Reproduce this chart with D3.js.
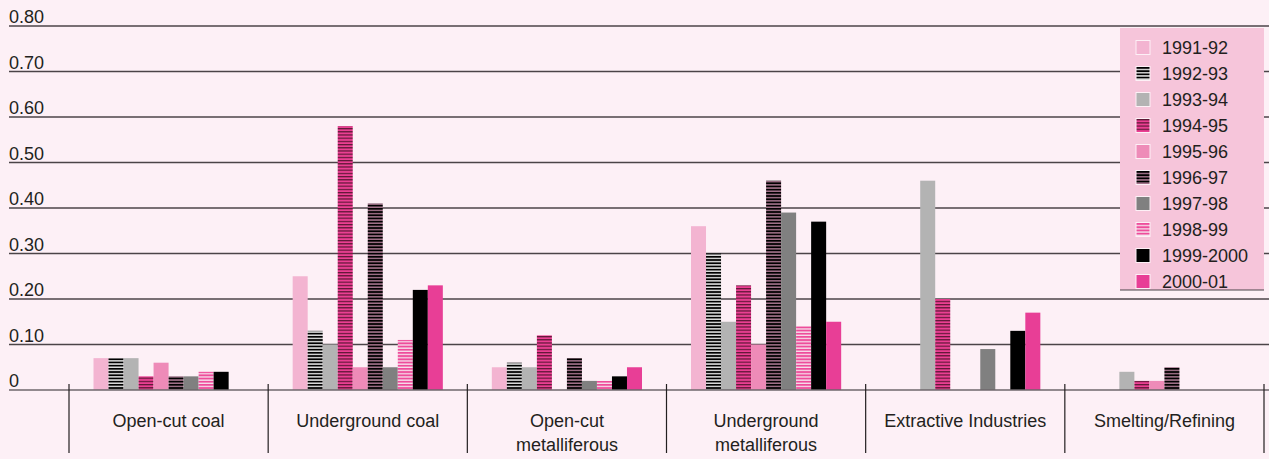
<!DOCTYPE html>
<html>
<head>
<meta charset="utf-8">
<script src="https://cdn.jsdelivr.net/npm/d3@7"></script>
<style>
  html, body { margin: 0; padding: 0; background: #fdf0f6; }
  svg { display: block; font-family: "Liberation Sans", Arial, sans-serif; }
</style>
</head>
<body>
<svg id="chart" width="1269" height="459"></svg>
<script>
// Industry sectors (a "\n" breaks the label onto two lines)
const categories = [
  "Open-cut coal",
  "Underground coal",
  "Open-cut\nmetalliferous",
  "Underground\nmetalliferous",
  "Extractive Industries",
  "Smelting/Refining"
];

// Financial years shown in the legend
const years = ["1991-92", "1992-93", "1993-94", "1994-95", "1995-96",
               "1996-97", "1997-98", "1998-99", "1999-2000", "2000-01"];

// Values per sector, one per financial year (same order as `years`)
const openCutCoal           = [0.07, 0.07, 0.07, 0.03, 0.06, 0.03, 0.03, 0.04, 0.04, 0.00];
const undergroundCoal       = [0.25, 0.13, 0.10, 0.58, 0.05, 0.41, 0.05, 0.11, 0.22, 0.23];
const openCutMetalliferous  = [0.05, 0.06, 0.05, 0.12, 0.00, 0.07, 0.02, 0.02, 0.03, 0.05];
const undergroundMetallif   = [0.36, 0.30, 0.15, 0.23, 0.10, 0.46, 0.39, 0.14, 0.37, 0.15];
const extractiveIndustries  = [0.00, 0.00, 0.46, 0.20, 0.00, 0.00, 0.09, 0.00, 0.13, 0.17];
const smeltingRefining      = [0.00, 0.00, 0.04, 0.02, 0.02, 0.05, 0.00, 0.00, 0.00, 0.00];

const seriesByCategory = [openCutCoal, undergroundCoal, openCutMetalliferous,
                          undergroundMetallif, extractiveIndustries, smeltingRefining];

// Y axis tick values and their printed labels
const yTicks = [0, 0.1, 0.2, 0.3, 0.4, 0.5, 0.6, 0.7, 0.8];
const yTickLabels = ["0", "0.10", "0.20", "0.30", "0.40", "0.50", "0.60", "0.70", "0.80"];

// Fill per year: solid colours or striped patterns
const fills = [
  { type: "solid", color: "#f3b4d1" },
  { type: "stripe", id: "st9293", bg: "#dcdcdc", fg: "#000000", fh: 1.7 },
  { type: "solid", color: "#b3b3b3" },
  { type: "stripe", id: "st9495", bg: "#eb3f93", fg: "#5c1634", fh: 1.2 },
  { type: "solid", color: "#ee8bb8" },
  { type: "stripe", id: "st9697", bg: "#a2728a", fg: "#000000", fh: 1.7 },
  { type: "solid", color: "#808080" },
  { type: "stripe", id: "st9899", bg: "#f6e2ec", fg: "#ee4c9b", fh: 1.9 },
  { type: "solid", color: "#000000" },
  { type: "solid", color: "#e83e96" }
];

const svg = d3.select("#chart");
const W = 1269, H = 459;
const FONT = 18;

const plotLeft = 69, plotRight = 1264;
const x0 = d3.scaleBand().domain(categories).range([plotLeft, plotRight]);
const groupPad = 24.5;
const x1 = d3.scaleBand().domain(years).range([groupPad, x0.bandwidth() - groupPad]);
const y = d3.scaleLinear().domain([0, 0.8]).range([390, 26]);

// Stripe patterns
const defs = svg.append("defs");
fills.filter(f => f.type === "stripe").forEach(f => {
  const p = defs.append("pattern")
    .attr("id", f.id)
    .attr("patternUnits", "userSpaceOnUse")
    .attr("width", 6).attr("height", 3.2);
  p.append("rect").attr("width", 6).attr("height", 3.2).attr("fill", f.bg);
  p.append("rect").attr("y", 0).attr("width", 6).attr("height", f.fh).attr("fill", f.fg);
});
const fillOf = i => fills[i].type === "solid" ? fills[i].color : `url(#${fills[i].id})`;

// Background
svg.append("rect").attr("width", W).attr("height", H).attr("fill", "#fdf0f6");

// Horizontal gridlines with labels sitting above each line
const grid = svg.append("g");
grid.selectAll("line").data(yTicks.filter(t => t > 0)).join("line")
  .attr("x1", 9).attr("x2", W)
  .attr("y1", d => y(d)).attr("y2", d => y(d))
  .attr("stroke", "#4b4448").attr("stroke-width", 1.4);

svg.append("g").selectAll("text").data(yTicks).join("text")
  .attr("x", 9)
  .attr("y", d => y(d) - 3)
  .attr("font-size", FONT)
  .attr("fill", "#231f20")
  .text((d, i) => yTickLabels[i]);

// Bars
const groups = svg.append("g").selectAll("g").data(categories).join("g")
  .attr("transform", d => `translate(${x0(d)},0)`);

groups.selectAll("rect")
  .data((c, ci) => seriesByCategory[ci].map((v, i) => ({ year: years[i], value: v, i })))
  .join("rect")
  .attr("x", d => x1(d.year))
  .attr("width", x1.bandwidth())
  .attr("y", d => y(d.value))
  .attr("height", d => y(0) - y(d.value))
  .attr("fill", d => fillOf(d.i));

// Zero baseline
svg.append("line")
  .attr("x1", 9).attr("x2", W)
  .attr("y1", y(0)).attr("y2", y(0))
  .attr("stroke", "#6e676b").attr("stroke-width", 1.6);

// Category separators
const edges = categories.map(c => x0(c)).concat([plotRight]);
svg.append("g").selectAll("line").data(edges).join("line")
  .attr("x1", d => d).attr("x2", d => d)
  .attr("y1", 384).attr("y2", 453)
  .attr("stroke", "#231f20").attr("stroke-width", 1.2);

// Category labels
const labels = svg.append("g").selectAll("text").data(categories).join("text")
  .attr("text-anchor", "middle")
  .attr("font-size", FONT)
  .attr("fill", "#231f20");
labels.each(function (c) {
  const lines = c.split("\n");
  const t = d3.select(this);
  lines.forEach((ln, k) => {
    t.append("tspan")
      .attr("x", x0(c) + x0.bandwidth() / 2)
      .attr("y", 427 + k * 24)
      .text(ln);
  });
});

// Legend
const lg = svg.append("g");
lg.append("rect")
  .attr("x", 1120).attr("y", 28).attr("width", 144).attr("height", 262)
  .attr("fill", "#f6c5da");
lg.append("line")
  .attr("x1", 1120).attr("x2", 1264).attr("y1", 290).attr("y2", 290)
  .attr("stroke", "#4b4448").attr("stroke-width", 1.2);

const rowY = d3.scalePoint().domain(years).range([47.5, 281.5]);
const items = lg.selectAll("g.item").data(years).join("g")
  .attr("class", "item")
  .attr("transform", d => `translate(0,${rowY(d)})`);
items.append("rect")
  .attr("x", 1136).attr("y", -7).attr("width", 14).attr("height", 14)
  .attr("fill", (d, i) => fillOf(i))
  .attr("stroke", "#fdf0f6").attr("stroke-width", 1);
items.append("text")
  .attr("x", 1162).attr("y", 6.5)
  .attr("font-size", FONT)
  .attr("fill", "#231f20")
  .text(d => d);
</script>
</body>
</html>
